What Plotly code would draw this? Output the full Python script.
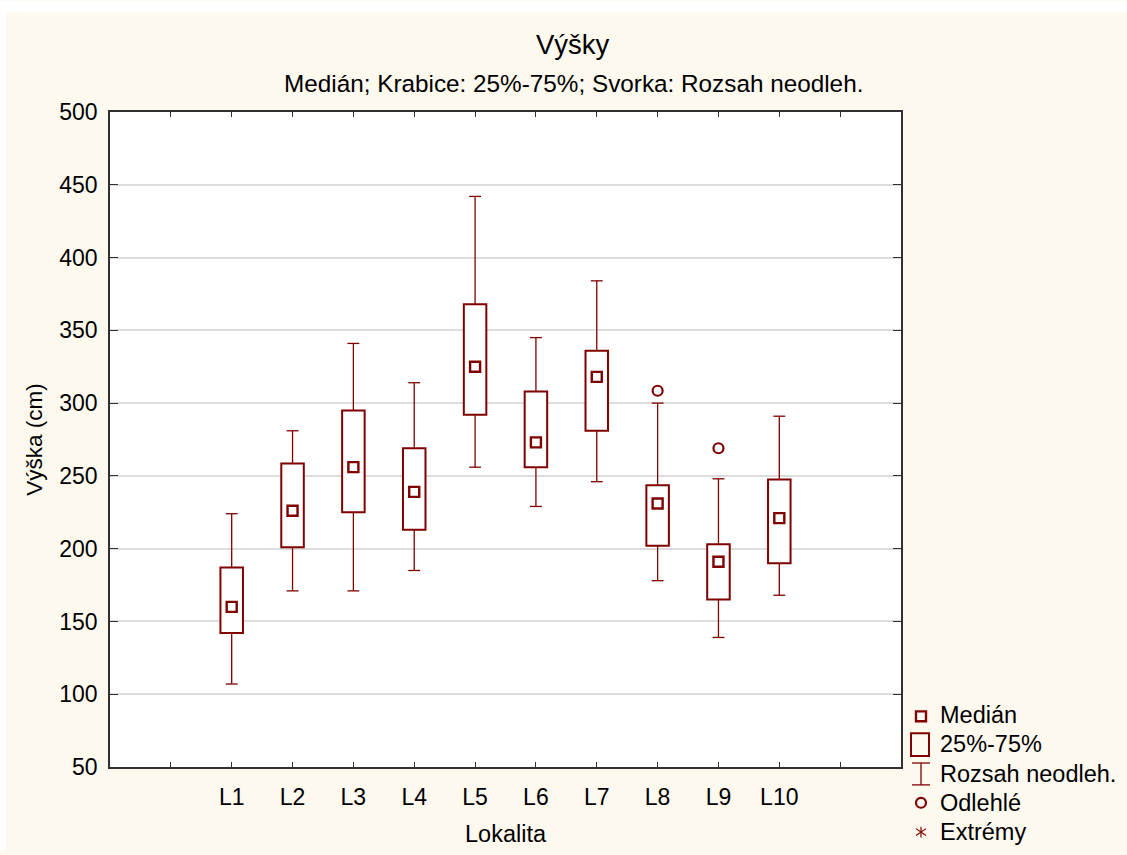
import plotly.graph_objects as go

# Heights (cm) by locality: whisker ends, quartiles and median
categories = ["L1", "L2", "L3", "L4", "L5", "L6", "L7", "L8", "L9", "L10"]
lower = [107, 171, 171, 185, 256, 229, 246, 178, 139, 168]
q1 = [142, 201, 225, 213, 292, 256, 281, 202, 165, 190]
median = [160, 226, 256, 239, 325, 273, 318, 231, 191, 221]
q3 = [187, 258.5, 295, 269, 368, 308, 336, 243.5, 203, 247.5]
upper = [224, 281, 341, 314, 442, 345, 384, 300, 248, 291]
outlier_cats = ["L8", "L9"]
outlier_vals = [308.5, 269]

y_ticks = [50, 100, 150, 200, 250, 300, 350, 400, 450, 500]

DARK_RED = "#800000"
FONT = "Liberation Sans, Arial, sans-serif"
PAPER = "#fdf9ef"

W, H = 1127, 855
L, R, T, B = 110, 226, 112, 84

pos = [i + 1 for i in range(len(categories))]
cat_pos = dict(zip(categories, pos))


def fx(px):
    return (px - L) / (W - L - R)


def fy(py):
    return (H - B - py) / (H - T - B)


fig = go.Figure()

# Interquartile boxes
fig.add_trace(go.Bar(
    x=pos, base=q1, y=[b - a for a, b in zip(q1, q3)], width=0.37,
    marker=dict(color="white", line=dict(color=DARK_RED, width=2)),
    showlegend=False, hoverinfo="skip",
))

# Whiskers (from box edges to the non-outlier range)
wx, wy = [], []
for p, lo, a, b, hi in zip(pos, lower, q1, q3, upper):
    wx += [p, p, None, p, p, None]
    wy += [b, hi, None, a, lo, None]
fig.add_trace(go.Scatter(
    x=wx, y=wy, mode="lines", line=dict(color=DARK_RED, width=1.3),
    showlegend=False, hoverinfo="skip",
))

# Whisker caps
fig.add_trace(go.Scatter(
    x=pos + pos, y=lower + upper, mode="markers",
    marker=dict(symbol="line-ew", size=8.5, line=dict(color=DARK_RED, width=1.3)),
    showlegend=False, hoverinfo="skip",
))

# Medians
fig.add_trace(go.Scatter(
    x=pos, y=median, mode="markers",
    marker=dict(symbol="square", size=10, color="white",
                line=dict(color=DARK_RED, width=2.4)),
    showlegend=False, hoverinfo="skip",
))

# Outliers
fig.add_trace(go.Scatter(
    x=[cat_pos[c] for c in outlier_cats], y=outlier_vals, mode="markers",
    marker=dict(symbol="circle", size=10, color="white",
                line=dict(color=DARK_RED, width=2.2)),
    showlegend=False, hoverinfo="skip",
))

shapes = [
    # white margins at the top and left edges of the page
    dict(type="rect", xref="paper", yref="paper", x0=fx(0), x1=fx(W), y0=fy(12), y1=fy(0),
         fillcolor="white", line=dict(width=0), layer="above"),
    dict(type="rect", xref="paper", yref="paper", x0=fx(0), x1=fx(6), y0=fy(H), y1=fy(0),
         fillcolor="white", line=dict(width=0), layer="above"),
]

# Legend
lx = 921
shapes += [
    dict(type="rect", xref="paper", yref="paper", x0=fx(lx - 5), x1=fx(lx + 5),
         y0=fy(720 + 5), y1=fy(720 - 5), line=dict(color=DARK_RED, width=2.4), fillcolor="white"),
    dict(type="rect", xref="paper", yref="paper", x0=fx(lx - 10), x1=fx(lx + 8),
         y0=fy(760), y1=fy(737), line=dict(color=DARK_RED, width=2), fillcolor="rgba(0,0,0,0)"),
    dict(type="line", xref="paper", yref="paper", x0=fx(lx), x1=fx(lx),
         y0=fy(789), y1=fy(767), line=dict(color=DARK_RED, width=1.3)),
    dict(type="line", xref="paper", yref="paper", x0=fx(lx - 9), x1=fx(lx + 9),
         y0=fy(767), y1=fy(767), line=dict(color=DARK_RED, width=1.3)),
    dict(type="line", xref="paper", yref="paper", x0=fx(lx - 9), x1=fx(lx + 9),
         y0=fy(789), y1=fy(789), line=dict(color=DARK_RED, width=1.3)),
    dict(type="circle", xref="paper", yref="paper", x0=fx(lx - 5), x1=fx(lx + 5),
         y0=fy(807 + 5), y1=fy(807 - 5), line=dict(color=DARK_RED, width=2.2)),
    dict(type="line", xref="paper", yref="paper", x0=fx(lx), x1=fx(lx),
         y0=fy(842), y1=fy(831), line=dict(color=DARK_RED, width=1.2)),
    dict(type="line", xref="paper", yref="paper", x0=fx(lx - 5), x1=fx(lx + 5),
         y0=fy(840), y1=fy(833), line=dict(color=DARK_RED, width=1.2)),
    dict(type="line", xref="paper", yref="paper", x0=fx(lx - 5), x1=fx(lx + 5),
         y0=fy(833), y1=fy(840), line=dict(color=DARK_RED, width=1.2)),
]

legend_items = [("Medián", 719), ("25%-75%", 748), ("Rozsah neodleh.", 778),
                ("Odlehlé", 807), ("Extrémy", 836)]
annotations = [
    dict(text=t, xref="paper", yref="paper", x=fx(938), y=fy(py), xanchor="left",
         yanchor="middle", showarrow=False, font=dict(family=FONT, size=23.5, color="black"))
    for t, py in legend_items
]

annotations += [
    dict(text="Výšky", xref="paper", yref="paper", x=fx(573), y=fy(44),
         xanchor="center", yanchor="middle", showarrow=False,
         font=dict(family=FONT, size=27.5, color="black")),
    dict(text="Medián; Krabice: 25%-75%; Svorka: Rozsah neodleh.", xref="paper", yref="paper",
         x=fx(573), y=fy(83), xanchor="center", yanchor="middle", showarrow=False,
         font=dict(family=FONT, size=24.3, color="black")),
]

fig.update_layout(
    width=W, height=H,
    margin=dict(l=L, r=R, t=T, b=B, pad=0),
    paper_bgcolor=PAPER, plot_bgcolor="white",
    font=dict(family=FONT, size=23, color="black"),
    shapes=shapes, annotations=annotations,
    showlegend=False,
    xaxis=dict(
        range=[-1, 12],
        tickmode="array",
        tickvals=list(range(0, 12)),
        ticktext=[""] + categories + [""],
        ticks="inside", ticklen=5, tickwidth=1, tickcolor="#303030",
        showline=True, linecolor="#303030", linewidth=1.5, mirror="ticks",
        showgrid=False, zeroline=False,
        ticklabelstandoff=9,
        title=dict(text="Lokalita", standoff=16, font=dict(family=FONT, size=23.5)),
    ),
    yaxis=dict(
        range=[50, 500],
        tickmode="array", tickvals=y_ticks,
        ticks="inside", ticklen=8, tickwidth=1, tickcolor="#303030",
        showline=True, linecolor="#303030", linewidth=1.5, mirror="ticks",
        showgrid=True, gridcolor="#dcdcdc", gridwidth=1.5, zeroline=False,
        ticklabelstandoff=6,
        title=dict(text="Výška (cm)", standoff=10, font=dict(family=FONT, size=22.5)),
    ),
)

fig.write_html("out.html")
